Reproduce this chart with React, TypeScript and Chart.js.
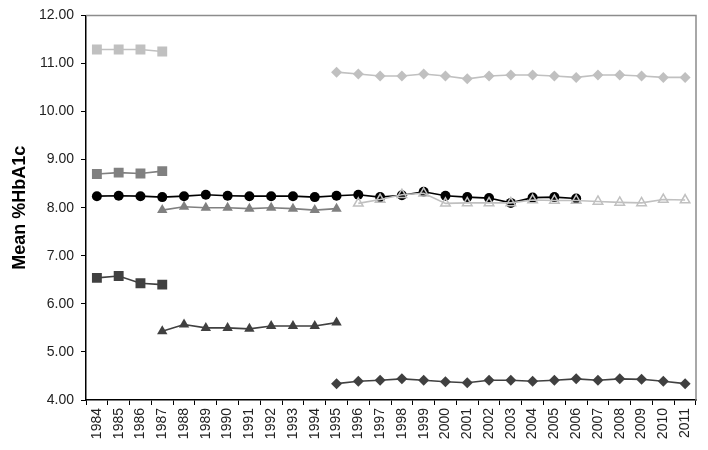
import React, { useEffect, useRef } from "react";
import { Chart, registerables } from "chart.js";

Chart.register(...registerables);

const years: string[] = [
  "1984", "1985", "1986", "1987", "1988", "1989", "1990", "1991", "1992", "1993",
  "1994", "1995", "1996", "1997", "1998", "1999", "2000", "2001", "2002", "2003",
  "2004", "2005", "2006", "2007", "2008", "2009", "2010", "2011",
];

const N = null;

// light grey squares 1984-1987
const lightSquares = [11.29, 11.29, 11.29, 11.25, N, N, N, N, N, N, N, N, N, N, N, N, N, N, N, N, N, N, N, N, N, N, N, N];
// mid grey squares 1984-1987
const midSquares = [8.70, 8.73, 8.71, 8.76, N, N, N, N, N, N, N, N, N, N, N, N, N, N, N, N, N, N, N, N, N, N, N, N];
// dark squares 1984-1987
const darkSquares = [6.54, 6.58, 6.43, 6.40, N, N, N, N, N, N, N, N, N, N, N, N, N, N, N, N, N, N, N, N, N, N, N, N];
// black circles 1984-2006
const blackCircles = [8.24, 8.25, 8.24, 8.22, 8.24, 8.27, 8.25, 8.24, 8.24, 8.24, 8.22, 8.25, 8.27, 8.22, 8.26, 8.33, 8.25, 8.22, 8.20, 8.10, 8.21, 8.22, 8.19, N, N, N, N, N];
// mid grey triangles 1987-1995
const midTriangles = [N, N, N, 7.95, 8.02, 8.00, 8.00, 7.98, 8.00, 7.98, 7.95, 7.98, N, N, N, N, N, N, N, N, N, N, N, N, N, N, N, N];
// dark triangles 1987-1995
const darkTriangles = [N, N, N, 5.43, 5.57, 5.50, 5.50, 5.48, 5.54, 5.54, 5.54, 5.61, N, N, N, N, N, N, N, N, N, N, N, N, N, N, N, N];
// open triangles 1996-2011
const openTriangles = [N, N, N, N, N, N, N, N, N, N, N, N, 8.09, 8.17, 8.27, 8.30, 8.09, 8.10, 8.10, 8.10, 8.16, 8.15, 8.15, 8.13, 8.11, 8.10, 8.17, 8.16];
// light grey diamonds 1995-2011
const lightDiamonds = [N, N, N, N, N, N, N, N, N, N, N, 10.82, 10.78, 10.74, 10.74, 10.78, 10.74, 10.68, 10.74, 10.76, 10.76, 10.74, 10.71, 10.76, 10.76, 10.74, 10.71, 10.71];
// dark diamonds 1995-2011
const darkDiamonds = [N, N, N, N, N, N, N, N, N, N, N, 4.34, 4.39, 4.41, 4.44, 4.41, 4.38, 4.36, 4.41, 4.41, 4.39, 4.41, 4.44, 4.41, 4.44, 4.43, 4.39, 4.34];

const yTicks = [4, 5, 6, 7, 8, 9, 10, 11, 12];
const yTitle = "Mean %HbA1c";

const FONT = "'Liberation Sans', Arial, Helvetica, sans-serif";

const frame = {
  id: "frame",
  afterDraw(chart: any) {
    const { ctx, chartArea } = chart;
    ctx.save();
    ctx.strokeStyle = "#8c8c8c";
    ctx.lineWidth = 1.5;
    ctx.beginPath();
    ctx.moveTo(chartArea.left, chartArea.top);
    ctx.lineTo(chartArea.right, chartArea.top);
    ctx.lineTo(chartArea.right, chartArea.bottom);
    ctx.stroke();
    ctx.restore();
  },
};

function ds(label: string, data: (number | null)[], color: string, style: string, radius: number, fill?: string) {
  return {
    label,
    data,
    borderColor: color,
    backgroundColor: fill ?? color,
    pointBackgroundColor: fill ?? color,
    pointBorderColor: color,
    pointStyle: style,
    pointRadius: radius,
    pointBorderWidth: fill ? 1.5 : 0,
    borderWidth: 1.6,
    tension: 0,
  };
}

export default function App() {
  const ref = useRef<HTMLCanvasElement>(null);
  useEffect(() => {
    if (!ref.current) return;
    const chart = new Chart(ref.current, {
      type: "line",
      data: {
        labels: years,
        datasets: [
          ds("open tri", openTriangles, "#c0c0c0", "triangle", 5.5, "rgba(255,255,255,0)"),
          ds("black circles", blackCircles, "#000000", "circle", 5),
          ds("light squares", lightSquares, "#c0c0c0", "rect", 7),
          ds("mid squares", midSquares, "#808080", "rect", 7),
          ds("dark squares", darkSquares, "#404040", "rect", 7),
          ds("mid tri", midTriangles, "#808080", "triangle", 6),
          ds("dark tri", darkTriangles, "#404040", "triangle", 6),
          ds("light diamonds", lightDiamonds, "#c0c0c0", "rectRot", 5.5),
          ds("dark diamonds", darkDiamonds, "#404040", "rectRot", 5.5),
        ],
      },
      options: {
        animation: false,
        responsive: false,
        layout: { padding: { left: 0, top: 14, right: 12, bottom: 0 } },
        plugins: { legend: { display: false }, tooltip: { enabled: false } },
        scales: {
          x: {
            offset: true,
            grid: { offset: true, drawOnChartArea: false, drawTicks: true, tickLength: 5, color: "#000" },
            border: { display: true, color: "#000", width: 1.5 },
            ticks: {
              minRotation: 90,
              maxRotation: 90,
              autoSkip: false,
              padding: 3,
              color: "#222",
              font: { family: FONT, size: 14 },
            },
            afterFit(scale: any) {
              scale.height = 50;
            },
          },
          y: {
            min: 4,
            max: 12,
            afterBuildTicks(scale: any) {
              scale.ticks = yTicks.map((v) => ({ value: v }));
            },
            grid: { drawOnChartArea: false, drawTicks: true, tickLength: 5, color: "#000" },
            border: { display: true, color: "#000", width: 1.5 },
            ticks: {
              padding: 7,
              color: "#222",
              font: { family: FONT, size: 14 },
              callback: (v: any) => Number(v).toFixed(2),
            },
            title: {
              display: true,
              text: yTitle,
              color: "#000",
              font: { family: FONT, size: 18, weight: "bold" },
              padding: { top: 9, bottom: 0 },
            },
            afterFit(scale: any) {
              scale.width = 86;
            },
          },
        },
      },
      plugins: [frame],
    } as any);
    return () => chart.destroy();
  }, []);
  return (
    <div style={{ position: "fixed", left: 0, top: 0, width: 708, height: 450, background: "#fff" }}>
      <canvas ref={ref} width={708} height={450} style={{ width: 708, height: 450 }} />
    </div>
  );
}
